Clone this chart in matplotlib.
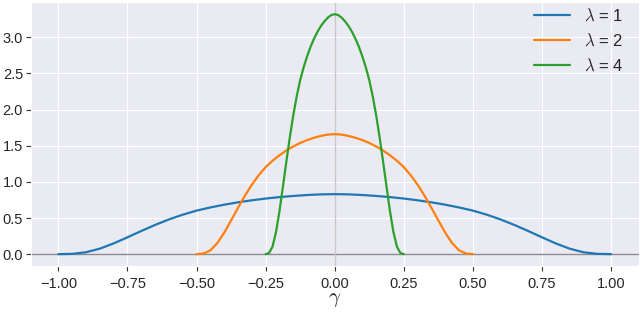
import numpy as np
import matplotlib
matplotlib.use("Agg")
import matplotlib.pyplot as plt
import seaborn as sns

gamma_1 = np.linspace(-1.0, 1.0, 41)
gamma_2 = np.linspace(-0.5, 0.5, 41)
gamma_4 = np.linspace(-0.25, 0.25, 41)

f_lam1 = [0.000, 0.004, 0.026, 0.076, 0.148, 0.233, 0.320, 0.404, 0.480, 0.546,
          0.602, 0.646, 0.684, 0.717, 0.745, 0.769, 0.789, 0.805, 0.818, 0.827,
          0.830,
          0.827, 0.818, 0.805, 0.789, 0.769, 0.745, 0.717, 0.684, 0.646, 0.602,
          0.546, 0.480, 0.404, 0.320, 0.233, 0.148, 0.076, 0.026, 0.004, 0.000]

f_lam2 = [0.000, 0.008, 0.052, 0.152, 0.296, 0.466, 0.640, 0.808, 0.960, 1.092,
          1.204, 1.292, 1.368, 1.434, 1.490, 1.538, 1.578, 1.610, 1.636, 1.654,
          1.660,
          1.654, 1.636, 1.610, 1.578, 1.538, 1.490, 1.434, 1.368, 1.292, 1.204,
          1.092, 0.960, 0.808, 0.640, 0.466, 0.296, 0.152, 0.052, 0.008, 0.000]

f_lam4 = [0.000, 0.016, 0.104, 0.304, 0.592, 0.932, 1.280, 1.616, 1.920, 2.184,
          2.408, 2.584, 2.736, 2.868, 2.980, 3.076, 3.156, 3.220, 3.272, 3.308,
          3.320,
          3.308, 3.272, 3.220, 3.156, 3.076, 2.980, 2.868, 2.736, 2.584, 2.408,
          2.184, 1.920, 1.616, 1.280, 0.932, 0.592, 0.304, 0.104, 0.016, 0.000]

labels = [r'$\lambda$ = 1', r'$\lambda$ = 2', r'$\lambda$ = 4']

sns.set_style("darkgrid", {"xtick.bottom": True, "ytick.left": True})
plt.rcParams['font.family'] = ['Liberation Sans', 'DejaVu Sans']
plt.rcParams['mathtext.fontset'] = 'cm'
plt.rcParams['font.size'] = 10.5

fig = plt.figure(figsize=(6.4, 3.12), dpi=100)
ax = fig.add_axes((0.048, 0.147, 0.95, 0.846))

ax.axhline(0, color='#8c8c8c', lw=1.0)
ax.axvline(0, color='#c8c8c8', lw=1.0)

ax.plot(gamma_1, f_lam1, lw=1.6, label=labels[0])
ax.plot(gamma_2, f_lam2, lw=1.6, label=labels[1])
ax.plot(gamma_4, f_lam4, lw=1.6, label=labels[2])

ax.set_xticks([-1.0, -0.75, -0.5, -0.25, 0.0, 0.25, 0.5, 0.75, 1.0])
ax.set_yticks([0.0, 0.5, 1.0, 1.5, 2.0, 2.5, 3.0])
ax.tick_params(length=3.5, width=0.8, color='#333333', labelsize=10.5)
ax.tick_params(axis='x', pad=4.5)
ax.tick_params(axis='y', pad=2)
ax.set_xlabel(r'$\gamma$', fontsize=15, labelpad=-1)

ax.legend(loc='upper right', frameon=False, fontsize=12,
          handlelength=2.2, labelspacing=0.5,
          bbox_to_anchor=(0.985, 1.005), borderaxespad=0)

fig.savefig('out.png', dpi=100)
